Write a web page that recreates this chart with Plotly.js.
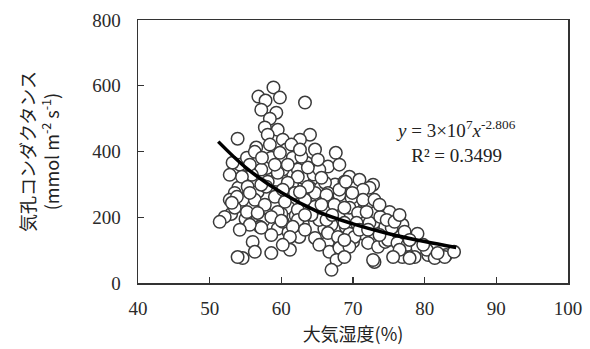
<!DOCTYPE html>
<html>
<head>
<meta charset="utf-8">
<script src="https://cdn.plot.ly/plotly-3.0.1.min.js"></script>
<style>html,body{margin:0;padding:0;background:#fff;}#chart{width:590px;height:349px;}</style>
</head>
<body>
<div id="chart"></div>
<script>
// Atmospheric humidity (%)
const rh = [61.0,62.0,63.0,64.0,65.0,66.0,67.0,68.0,69.0,70.0,71.0,72.0,73.0,74.0,71.5,69.5,66.0,64.0,65.5,67.5,
  70.0,58.0,59.0,60.5,61.5,63.0,64.5,60.0,58.0,56.0,54.0,53.0,55.0,57.5,59.5,61.0,62.5,60.0,66.5,70.0,
  75.5,78.5,80.5,83.0,79.0,76.5,
  58.9,56.8,57.8,59.8,57.2,59.3,58.4,63.3,57.7,59.5,58.1,64.0,62.6,53.9,56.5,58.4,60.2,60.7,64.7,67.6,
  54.2,53.2,55.2,58.6,61.6,63.5,66.5,69.5,70.9,72.8,57.2,60.2,62.3,65.3,55.2,59.3,63.7,68.8,72.3,71.4,
  75.1,66.1,66.5,64.7,68.1,69.8,71.4,67.4,69.5,70.7,73.0,64.7,65.3,67.0,68.8,72.3,74.5,64.7,66.5,67.9,
  70.2,72.1,73.5,74.5,66.7,68.1,69.5,67.7,67.0,73.0,76.9,77.2,75.4,74.9,76.2,77.6,79.0,80.3,76.9,78.6,
  81.4,82.8,84.1,81.8,76.5,73.8,77.9,75.6,56.3,59.8,62.8,60.9,55.9,59.5,62.3,54.5,58.1,60.9,63.7,55.3,
  56.7,53.5,52.8,54.6,56.3,59.1,61.9,60.5,63.3,57.7,55.2,53.5,56.7,59.5,62.3,64.2,52.1,58.6,51.4,57.0,
  58.6,60.2,62.3,56.0,54.6,53.9,56.3,58.6,61.2,68.8,72.8,66.3,70.5,74.7,71.9,68.8,66.3,68.1,69.0,62.6,
  60.2,57.9,55.6,53.8,53.1,57.2,60.0,61.6,61.4,57.3,62.6,65.1,68.1,65.6,69.9,73.0,73.7,75.8,76.5,77.9,
  79.8,70.9,68.8,65.3,63.3,61.2,63.3,55.6,54.2,60.2,57.2,59.1,55.6,52.8,65.6,67.1,72.1,73.7];
// Stomatal conductance (mmol m-2 s-1)
const gs = [230,205,180,245,260,225,250,200,170,240,195,230,185,205,150,150,165,290,290,300,
  290,230,240,265,300,320,330,320,350,300,290,210,195,190,165,155,140,210,125,125,
  140,95,85,85,150,140,
  595,567,555,564,527,518,500,549,473,466,451,451,436,439,412,421,436,406,406,396,
  360,366,381,381,381,366,354,323,314,299,345,345,345,345,323,314,351,308,290,284,
  216,305,274,274,268,259,253,238,229,213,213,232,192,177,183,183,171,137,152,140,
  140,122,110,125,95,107,110,70,40,64,177,156,168,131,122,116,107,101,79,79,
  76,79,95,91,101,201,76,79,399,396,384,360,329,335,323,323,308,305,293,293,
  277,274,253,253,253,262,274,247,253,238,216,229,213,216,223,207,201,201,186,171,
  146,186,192,125,76,79,95,91,101,79,70,192,183,192,216,229,268,284,308,277,
  284,293,274,262,244,168,189,171,421,381,406,375,360,320,274,253,238,186,207,131,
  116,162,131,116,162,140,207,177,162,116,299,360,360,329,238,207,162,146];
// Power trend line
const fitRh = [51.2, 55, 60, 65, 70, 75, 80, 84.4];
const fitGs = [430, 352, 275, 218, 180, 150, 126, 108];

const serif = 'Liberation Serif, Times New Roman, serif';
const tickFont = {family: serif, size: 19, color: '#2a2a2a'};

const traces = [
  {
    x: rh, y: gs, type: 'scatter', mode: 'markers',
    marker: {symbol: 'circle', size: 12.5, color: '#ffffff', line: {color: '#3a3a3a', width: 1.5}},
    showlegend: false, hoverinfo: 'skip'
  },
  {
    x: fitRh, y: fitGs, type: 'scatter', mode: 'lines',
    line: {color: '#000', width: 3.5, shape: 'spline', smoothing: 1.0},
    showlegend: false, hoverinfo: 'skip'
  }
];

const layout = {
  width: 590, height: 349,
  margin: {l: 138, r: 22, t: 20, b: 66},
  paper_bgcolor: '#fff', plot_bgcolor: '#fff',
  showlegend: false,
  xaxis: {
    range: [40, 100], dtick: 10, tick0: 40,
    ticks: 'inside', ticklen: 6, tickwidth: 1.3, tickcolor: '#333',
    showline: true, linecolor: '#333', linewidth: 1.5, mirror: true,
    showgrid: false, zeroline: false,
    tickfont: tickFont, ticklabelstandoff: 8,
    title: {text: '大気湿度(%)', font: {family: 'Noto Sans CJK JP, sans-serif', size: 18, color: '#222'}, standoff: 10}
  },
  yaxis: {
    range: [0, 800], dtick: 200, tick0: 0,
    ticks: 'inside', ticklen: 6, tickwidth: 1.3, tickcolor: '#333',
    showline: true, linecolor: '#333', linewidth: 1.5, mirror: true,
    showgrid: false, zeroline: false,
    tickfont: tickFont, ticklabelstandoff: 12,
    title: {
      text: '気孔コンダクタンス<br>(mmol m<sup>-2</sup> s<sup>-1</sup>)',
      font: {family: 'Noto Sans CJK JP, sans-serif', size: 18, color: '#222'}, standoff: 28
    }
  },
  annotations: [
    {
      xref: 'x', yref: 'y', x: 84.4, y: 431, showarrow: false, align: 'center',
      xanchor: 'center', yanchor: 'middle',
      text: '<i>y</i> = 3×10<sup>7</sup><i>x</i><sup>-2.806</sup><br>R² = 0.3499',
      font: {family: serif, size: 19, color: '#222'}
    }
  ]
};

Plotly.newPlot('chart', traces, layout, {displayModeBar: false, staticPlot: true});
</script>
</body>
</html>
